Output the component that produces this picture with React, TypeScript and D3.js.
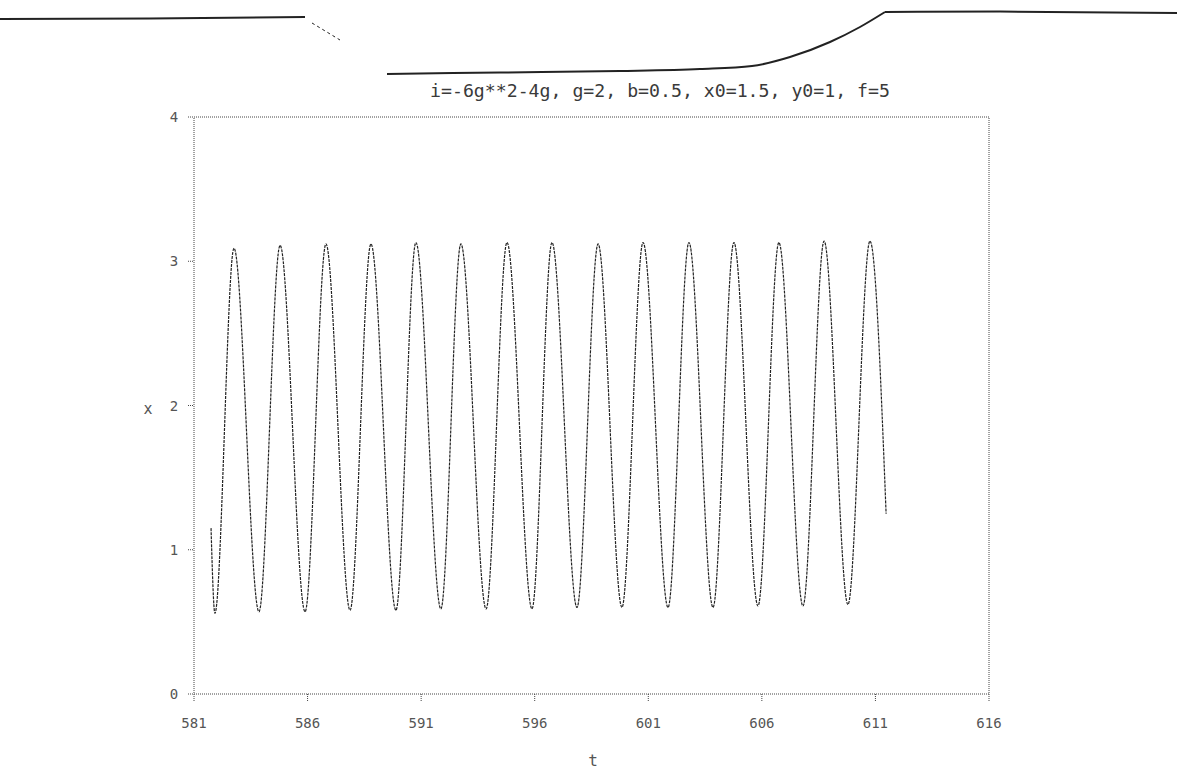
import React from "react";
import * as d3 from "d3";

// ---- data ----
const tTicks = [581, 586, 591, 596, 601, 606, 611, 616];
const xTicks = [0, 1, 2, 3, 4];
const tValues = [
  581.75, 581.92, 582.76, 583.86, 584.79, 585.89, 586.81, 587.87, 588.79,
  589.89, 590.77, 591.87, 592.75, 593.86, 594.78, 595.88, 596.76, 597.86,
  598.79, 599.84, 600.77, 601.87, 602.79, 603.85, 604.77, 605.83, 606.75,
  607.81, 608.74, 609.79, 610.76, 611.47,
];
const xValues = [
  1.15, 0.56, 3.09, 0.57, 3.11, 0.57, 3.12, 0.58, 3.12, 0.58, 3.13, 0.59,
  3.12, 0.59, 3.13, 0.59, 3.13, 0.6, 3.12, 0.6, 3.13, 0.6, 3.13, 0.6, 3.13,
  0.61, 3.13, 0.61, 3.14, 0.62, 3.14, 1.25,
];
const titleText = "i=-6g**2-4g, g=2, b=0.5, x0=1.5, y0=1, f=5";
const xLabel = "t";
const yLabel = "x";
// scan edge artefact across the top of the page
const scanEdge: [number, number][][] = [
  [[0, 19], [150, 18.5], [305, 17]],
  [[312, 23], [340, 40]],
  [[387, 74], [500, 72.5], [620, 71], [700, 69], [752, 66], [790, 57], [830, 42], [860, 27], [885, 12]],
  [[885, 12], [1000, 11.5], [1177, 13]],
];

const W = 1177;
const H = 777;
const left = 194;
const right = 989;
const top = 117;
const bottom = 694;
const font = "'DejaVu Sans Mono', monospace";
const ink = "#3a3a3a";

export default function App() {
  const xs = d3.scaleLinear().domain([581, 616]).range([left, right]);
  const ys = d3.scaleLinear().domain([0, 4]).range([bottom, top]);
  const pts = tValues.map((t, i) => [t, xValues[i]] as [number, number]);
  const line = d3
    .line<[number, number]>()
    .x((d) => xs(d[0]))
    .y((d) => ys(d[1]))
    .curve(d3.curveMonotoneX);
  const edgeLine = d3.line<[number, number]>().curve(d3.curveMonotoneX);

  return (
    <svg
      width={W}
      height={H}
      style={{ position: "absolute", left: 0, top: 0, background: "#fff" }}
    >
      {scanEdge.map((seg, i) => (
        <path
          key={i}
          d={edgeLine(seg) || ""}
          fill="none"
          stroke="#222"
          strokeWidth={i === 1 ? 1 : 2}
          strokeDasharray={i === 1 ? "3 3" : undefined}
        />
      ))}
      <text
        x={660}
        y={97}
        textAnchor="middle"
        fontFamily={font}
        fontSize={18.2}
        fill={ink}
      >
        {titleText}
      </text>
      {/* frame */}
      <rect
        x={left}
        y={top}
        width={right - left}
        height={bottom - top}
        fill="none"
        stroke="#444"
        strokeWidth={1}
        strokeDasharray="1 1"
      />
      {/* x ticks */}
      {tTicks.map((t) => (
        <g key={t}>
          <line x1={xs(t)} x2={xs(t)} y1={bottom} y2={bottom + 8} stroke="#444" strokeDasharray="1 1" />
          <text
            x={xs(t)}
            y={728}
            textAnchor="middle"
            fontFamily={font}
            fontSize={14}
            fill="#555"
          >
            {t}
          </text>
        </g>
      ))}
      {/* y ticks */}
      {xTicks.map((v) => (
        <g key={v}>
          <line x1={left - 6} x2={left} y1={ys(v)} y2={ys(v)} stroke="#444" strokeDasharray="1 1" />
          <text
            x={174}
            y={ys(v) + 5}
            textAnchor="middle"
            fontFamily={font}
            fontSize={14}
            fill="#555"
          >
            {v}
          </text>
        </g>
      ))}
      <text x={593} y={766} textAnchor="middle" fontFamily={font} fontSize={16} fill="#555">
        {xLabel}
      </text>
      <text x={148} y={414} textAnchor="middle" fontFamily={font} fontSize={15} fill="#555">
        {yLabel}
      </text>
      <path
        d={line(pts) || ""}
        fill="none"
        stroke="#222"
        strokeWidth={1.2}
        strokeDasharray="3 1"
      />
    </svg>
  );
}
